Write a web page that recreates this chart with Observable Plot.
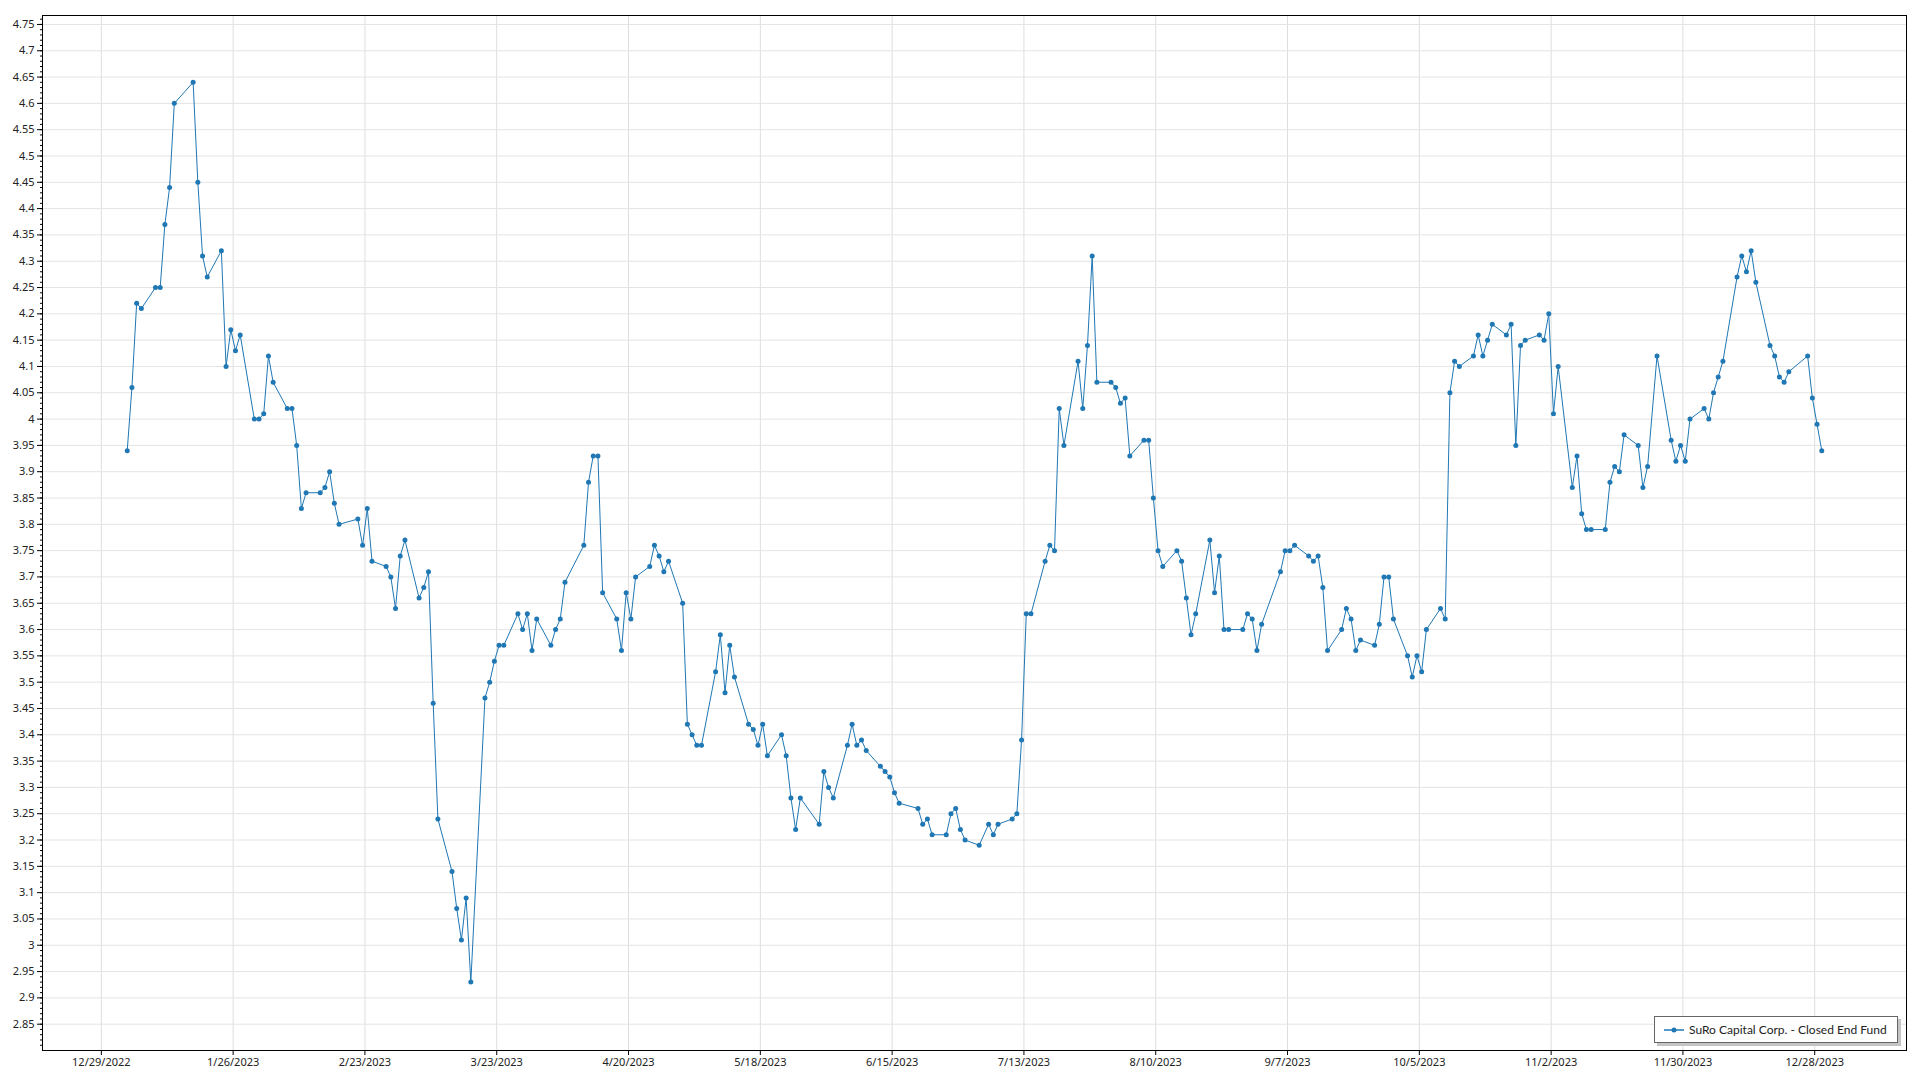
<!DOCTYPE html>
<html>
<head>
<meta charset="utf-8">
<script src="https://cdn.jsdelivr.net/npm/d3@7"></script>
<script src="https://cdn.jsdelivr.net/npm/@observablehq/plot@0.6"></script>
<style>
  body { margin: 0; background: #fff; font-family: "Noto Sans", sans-serif; }
  #wrap { position: relative; width: 1920px; height: 1080px; overflow: hidden; }
  #wrap svg.plot { position: absolute; left: 0; top: 0; }
  #legend {
    position: absolute; left: 1654px; top: 1016px; width: 242px; height: 25px;
    border: 1px solid #666; background: #fff; box-shadow: 3px 3px 0 #c4c4c4;
    display: flex; align-items: center; font-family: Lato, "Noto Sans", sans-serif;
    font-size: 12px; color: #222; z-index: 2; white-space: nowrap; overflow: hidden;
  }
  #legend svg { margin-left: 9px; margin-right: 5px; flex: none; }
</style>
</head>
<body>
<div id="wrap">
  <div id="legend"></div>
</div>
<script>
// ---- data ----
const seriesName = "SuRo Capital Corp. - Closed End Fund";

const tradingDates = [
  "2023-01-03","2023-01-04","2023-01-05","2023-01-06","2023-01-09","2023-01-10","2023-01-11","2023-01-12","2023-01-13",
  "2023-01-17","2023-01-18","2023-01-19","2023-01-20","2023-01-23","2023-01-24","2023-01-25","2023-01-26","2023-01-27",
  "2023-01-30","2023-01-31",
  "2023-02-01","2023-02-02","2023-02-03","2023-02-06","2023-02-07","2023-02-08","2023-02-09","2023-02-10",
  "2023-02-13","2023-02-14","2023-02-15","2023-02-16","2023-02-17","2023-02-21","2023-02-22","2023-02-23","2023-02-24",
  "2023-02-27","2023-02-28",
  "2023-03-01","2023-03-02","2023-03-03","2023-03-06","2023-03-07","2023-03-08","2023-03-09","2023-03-10",
  "2023-03-13","2023-03-14","2023-03-15","2023-03-16","2023-03-17","2023-03-20","2023-03-21","2023-03-22","2023-03-23",
  "2023-03-24","2023-03-27","2023-03-28","2023-03-29","2023-03-30","2023-03-31",
  "2023-04-03","2023-04-04","2023-04-05","2023-04-06","2023-04-10","2023-04-11","2023-04-12","2023-04-13","2023-04-14",
  "2023-04-17","2023-04-18","2023-04-19","2023-04-20","2023-04-21","2023-04-24","2023-04-25","2023-04-26","2023-04-27",
  "2023-04-28",
  "2023-05-01","2023-05-02","2023-05-03","2023-05-04","2023-05-05","2023-05-08","2023-05-09","2023-05-10","2023-05-11",
  "2023-05-12","2023-05-15","2023-05-16","2023-05-17","2023-05-18","2023-05-19","2023-05-22","2023-05-23","2023-05-24",
  "2023-05-25","2023-05-26","2023-05-30","2023-05-31",
  "2023-06-01","2023-06-02","2023-06-05","2023-06-06","2023-06-07","2023-06-08","2023-06-09","2023-06-12","2023-06-13",
  "2023-06-14","2023-06-15","2023-06-16","2023-06-20","2023-06-21","2023-06-22","2023-06-23","2023-06-26","2023-06-27",
  "2023-06-28","2023-06-29","2023-06-30",
  "2023-07-03","2023-07-05","2023-07-06","2023-07-07","2023-07-10","2023-07-11","2023-07-12","2023-07-13","2023-07-14",
  "2023-07-17","2023-07-18","2023-07-19","2023-07-20","2023-07-21","2023-07-24","2023-07-25","2023-07-26","2023-07-27",
  "2023-07-28","2023-07-31",
  "2023-08-01","2023-08-02","2023-08-03","2023-08-04","2023-08-07","2023-08-08","2023-08-09","2023-08-10","2023-08-11",
  "2023-08-14","2023-08-15","2023-08-16","2023-08-17","2023-08-18","2023-08-21","2023-08-22","2023-08-23","2023-08-24",
  "2023-08-25","2023-08-28","2023-08-29","2023-08-30","2023-08-31",
  "2023-09-01","2023-09-05","2023-09-06","2023-09-07","2023-09-08","2023-09-11","2023-09-12","2023-09-13","2023-09-14",
  "2023-09-15","2023-09-18","2023-09-19","2023-09-20","2023-09-21","2023-09-22","2023-09-25","2023-09-26","2023-09-27",
  "2023-09-28","2023-09-29",
  "2023-10-02","2023-10-03","2023-10-04","2023-10-05","2023-10-06","2023-10-09","2023-10-10","2023-10-11","2023-10-12",
  "2023-10-13","2023-10-16","2023-10-17","2023-10-18","2023-10-19","2023-10-20","2023-10-23","2023-10-24","2023-10-25",
  "2023-10-26","2023-10-27","2023-10-30","2023-10-31",
  "2023-11-01","2023-11-02","2023-11-03","2023-11-06","2023-11-07","2023-11-08","2023-11-09","2023-11-10","2023-11-13",
  "2023-11-14","2023-11-15","2023-11-16","2023-11-17","2023-11-20","2023-11-21","2023-11-22","2023-11-24","2023-11-27",
  "2023-11-28","2023-11-29","2023-11-30",
  "2023-12-01","2023-12-04","2023-12-05","2023-12-06","2023-12-07","2023-12-08","2023-12-11","2023-12-12","2023-12-13",
  "2023-12-14","2023-12-15","2023-12-18","2023-12-19","2023-12-20","2023-12-21","2023-12-22","2023-12-26","2023-12-27",
  "2023-12-28","2023-12-29"
];

const closePrices = [
  // Jan
  3.94,4.06,4.22,4.21,4.25,4.25,4.37,4.44,4.60,4.64,4.45,4.31,4.27,4.32,4.10,4.17,4.13,4.16,4.00,4.00,
  // Feb
  4.01,4.12,4.07,4.02,4.02,3.95,3.83,3.86,3.86,3.87,3.90,3.84,3.80,3.81,3.76,3.83,3.73,3.72,3.70,
  // Mar
  3.64,3.74,3.77,3.66,3.68,3.71,3.46,3.24,3.14,3.07,3.01,3.09,2.93,3.47,3.50,3.54,3.57,3.57,3.63,3.60,3.63,3.56,3.62,
  // Apr
  3.57,3.60,3.62,3.69,3.76,3.88,3.93,3.93,3.67,3.62,3.56,3.67,3.62,3.70,3.72,3.76,3.74,3.71,3.73,
  // May
  3.65,3.42,3.40,3.38,3.38,3.52,3.59,3.48,3.57,3.51,3.42,3.41,3.38,3.42,3.36,3.40,3.36,3.28,3.22,3.28,3.23,3.33,
  // Jun
  3.30,3.28,3.38,3.42,3.38,3.39,3.37,3.34,3.33,3.32,3.29,3.27,3.26,3.23,3.24,3.21,3.21,3.25,3.26,3.22,3.20,
  // Jul
  3.19,3.23,3.21,3.23,3.24,3.25,3.39,3.63,3.63,3.73,3.76,3.75,4.02,3.95,4.11,4.02,4.14,4.31,4.07,4.07,
  // Aug
  4.06,4.03,4.04,3.93,3.96,3.96,3.85,3.75,3.72,3.75,3.73,3.66,3.59,3.63,3.77,3.67,3.74,3.60,3.60,3.60,3.63,3.62,3.56,
  // Sep
  3.61,3.71,3.75,3.75,3.76,3.74,3.73,3.74,3.68,3.56,3.60,3.64,3.62,3.56,3.58,3.57,3.61,3.70,3.70,3.62,
  // Oct
  3.55,3.51,3.55,3.52,3.60,3.64,3.62,4.05,4.11,4.10,4.12,4.16,4.12,4.15,4.18,4.16,4.18,3.95,4.14,4.15,4.16,4.15,
  // Nov
  4.20,4.01,4.10,3.87,3.93,3.82,3.79,3.79,3.79,3.88,3.91,3.90,3.97,3.95,3.87,3.91,4.12,3.96,3.92,3.95,3.92,
  // Dec
  4.00,4.02,4.00,4.05,4.08,4.11,4.27,4.31,4.28,4.32,4.26,4.14,4.12,4.08,4.07,4.09,4.12,4.04,3.99,3.94
];

const xTickDates = [
  "2022-12-29","2023-01-26","2023-02-23","2023-03-23","2023-04-20","2023-05-18","2023-06-15",
  "2023-07-13","2023-08-10","2023-09-07","2023-10-05","2023-11-02","2023-11-30","2023-12-28"
];
const yTickValues = d3.range(285, 476, 5).map(v => v / 100);
const yMinorTickValues = d3.range(281, 477, 1).map(v => v / 100);

// ---- build ----
const lineColor = "#1f77b4";
const data = tradingDates.map((d, i) => ({
  date: new Date(d + "T12:00:00Z"),   // daily closes plotted at mid-day
  close: closePrices[i]
}));
const xTicks = xTickDates.map(d => new Date(d + "T00:00:00Z"));
const [x0, x1] = d3.extent(data, d => d.date);
const pad = (x1 - x0) * 0.05;

const chart = Plot.plot({
  width: 1920,
  height: 1080,
  marginLeft: 42,
  marginRight: 14,
  marginTop: 15,
  marginBottom: 30,
  style: { fontFamily: "Noto Sans", fontSize: "11px", color: "#222", background: "white" },
  x: { type: "utc", domain: [new Date(+x0 - pad), new Date(+x1 + pad)] },
  y: { domain: [2.8, 4.767] },
  marks: [
    Plot.gridX(xTicks, { stroke: "#dedede", strokeOpacity: 1 }),
    Plot.gridY(yTickValues, { stroke: "#e4e4e4", strokeOpacity: 1 }),
    Plot.axisY(yMinorTickValues, { tickSize: 2, fill: "none", stroke: "#000", label: null }),
    Plot.axisY(yTickValues, {
      tickSize: 5, tickPadding: 3, stroke: "#000", label: null,
      tickFormat: d => String(+d.toFixed(2))
    }),
    Plot.axisX(xTicks, {
      tickSize: 5, tickPadding: 3, stroke: "#000", label: null,
      tickFormat: d3.utcFormat("%-m/%-d/%Y")
    }),
    Plot.frame({ stroke: "#000", strokeWidth: 1 }),
    Plot.line(data, { x: "date", y: "close", stroke: lineColor, strokeWidth: 1 }),
    Plot.dot(data, { x: "date", y: "close", r: 2.5, fill: lineColor, stroke: "none" })
  ]
});

const wrap = document.getElementById("wrap");
wrap.insertBefore(chart, wrap.firstChild);

const legend = document.getElementById("legend");
legend.innerHTML =
  `<svg width="20" height="10"><line x1="0" y1="5" x2="20" y2="5" stroke="${lineColor}" stroke-width="1.5"/>` +
  `<circle cx="10" cy="5" r="2.5" fill="${lineColor}"/></svg><span>${seriesName}</span>`;
</script>
</body>
</html>
